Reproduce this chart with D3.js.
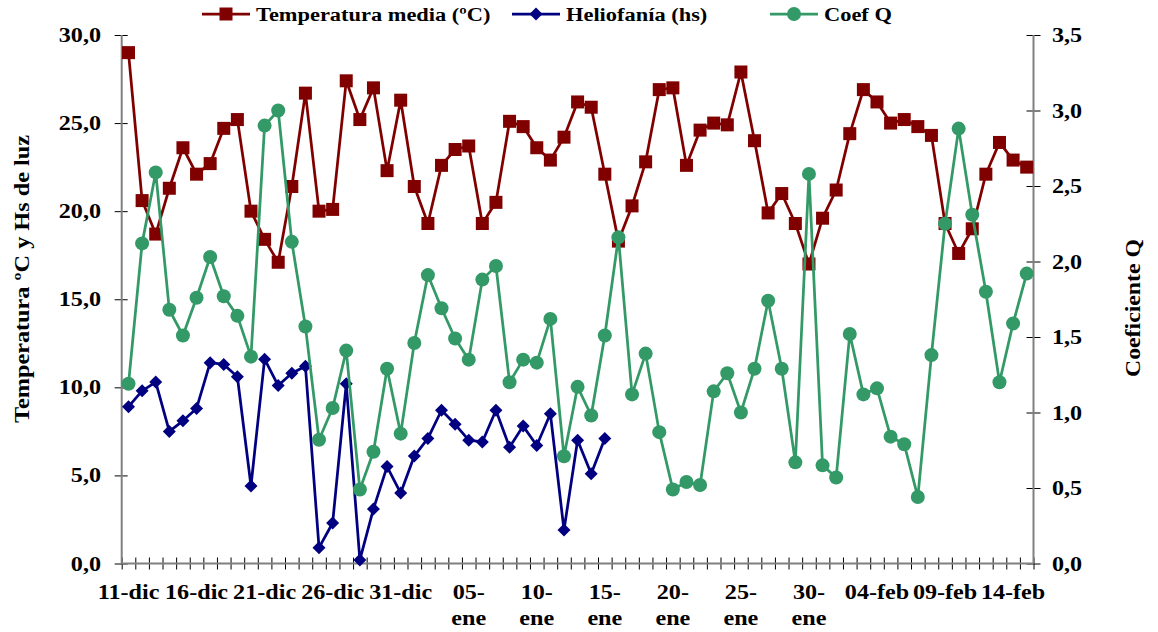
<!DOCTYPE html>
<html><head><meta charset="utf-8">
<script src="https://cdn.jsdelivr.net/npm/d3@7"></script>
<style>html,body{margin:0;padding:0;background:#fff;}svg{display:block;}</style>
</head><body>
<svg id="c" width="1158" height="632"></svg>
<script>
const categories = ["11-dic","12-dic","13-dic","14-dic","15-dic","16-dic","17-dic","18-dic","19-dic","20-dic","21-dic","22-dic","23-dic","24-dic","25-dic","26-dic","27-dic","28-dic","29-dic","30-dic","31-dic",
"01-ene","02-ene","03-ene","04-ene","05-ene","06-ene","07-ene","08-ene","09-ene","10-ene","11-ene","12-ene","13-ene","14-ene","15-ene","16-ene","17-ene","18-ene","19-ene","20-ene","21-ene","22-ene","23-ene","24-ene","25-ene","26-ene","27-ene","28-ene","29-ene","30-ene","31-ene",
"01-feb","02-feb","03-feb","04-feb","05-feb","06-feb","07-feb","08-feb","09-feb","10-feb","11-feb","12-feb","13-feb","14-feb","15-feb"];
const temperatura = [29.0,20.6,18.7,21.3,23.6,22.1,22.7,24.7,25.2,20.0,18.4,17.1,21.4,26.7,20.0,20.1,27.4,25.2,27.0,22.3,26.3,21.4,19.3,22.6,23.5,
23.7,19.3,20.5,25.1,24.8,23.6,22.9,24.2,26.2,25.9,22.1,18.3,20.3,22.8,26.9,27.0,22.6,24.6,25.0,24.9,27.9,24.0,
19.9,21.0,19.3,17.0,19.6,21.2,24.4,26.9,26.2,25.0,25.2,24.8,24.3,19.3,17.6,19.0,22.1,23.9,22.9,22.5];
const heliofania = [8.9,9.8,10.3,7.5,8.1,8.8,11.4,11.3,10.6,4.4,11.6,10.1,10.8,11.2,0.9,2.3,10.2,0.2,3.1,5.5,4.0,6.1,7.1,8.7,7.9,
7.0,6.9,8.7,6.6,7.8,6.7,8.5,1.9,7.0,5.1,7.1];
const coefQ = [1.19,2.12,2.59,1.68,1.51,1.76,2.03,1.77,1.64,1.37,2.90,3.00,2.13,1.57,0.82,1.03,1.41,0.49,0.74,1.29,0.86,1.46,1.91,1.69,1.49,
1.35,1.88,1.97,1.20,1.35,1.33,1.62,0.71,1.17,0.98,1.51,2.16,1.12,1.39,0.87,0.49,0.54,0.52,1.14,1.26,1.00,1.29,
1.74,1.29,0.67,2.58,0.65,0.57,1.52,1.12,1.16,0.84,0.79,0.44,1.38,2.25,2.88,2.31,1.80,1.20,1.59,1.92];
const leftTicks = [0,5,10,15,20,25,30];
const rightTicks = [0,0.5,1,1.5,2,2.5,3,3.5];
const seriesNames = ["Temperatura media (ºC)","Heliofanía (hs)","Coef Q"];
const leftTitle = "Temperatura ºC y Hs de luz";
const rightTitle = "Coeficiente Q";

const FONT = '"Liberation Serif","Times New Roman",serif';
const SX = 1.15;
const colors = ["#800000","#000080","#339966"];
const svg = d3.select("#c");
const L = 121.7, R = 1033.5, T = 35, B = 563.5;

const x = d3.scaleBand().domain(d3.range(categories.length)).range([L, R]);
const xb = d3.scaleLinear().domain([0, categories.length]).range([L, R]);
const yL = d3.scaleLinear().domain([0, 30]).range([B, T]);
const yR = d3.scaleLinear().domain([0, 3.5]).range([B, T]);
const cx = i => x(i) + x.bandwidth() / 2;
const fmt = v => d3.format(".1f")(v).replace(".", ",");

function txt(g, s, px, py, anchor, size) {
  return g.append("text").attr("transform", `translate(${px},${py}) scale(${SX},1)`)
    .attr("text-anchor", anchor).attr("font-family", FONT).attr("font-weight", "bold")
    .attr("font-size", size).attr("fill", "#000").text(s);
}

// x axis ticks
const gx = svg.append("g").attr("transform", `translate(0,${B})`)
  .call(d3.axisBottom(xb).tickValues(d3.range(categories.length + 1)).tickSize(6).tickFormat(""));
gx.select(".domain").remove();
gx.selectAll(".tick line").attr("y1", -6).attr("stroke", "#000").attr("stroke-width", 1);

// y axes ticks
const gyl = svg.append("g").attr("transform", `translate(${L},0)`)
  .call(d3.axisLeft(yL).tickValues(leftTicks).tickSize(7).tickFormat(""));
gyl.select(".domain").remove();
gyl.selectAll(".tick line").attr("x1", 6).attr("stroke", "#000");
const gyr = svg.append("g").attr("transform", `translate(${R},0)`)
  .call(d3.axisRight(yR).tickValues(rightTicks).tickSize(7).tickFormat(""));
gyr.select(".domain").remove();
gyr.selectAll(".tick line").attr("x1", -7).attr("stroke", "#000");

// axis lines
svg.append("line").attr("x1", L).attr("x2", L).attr("y1", T).attr("y2", B).attr("stroke", "#808080").attr("stroke-width", 2);
svg.append("line").attr("x1", R).attr("x2", R).attr("y1", T).attr("y2", B).attr("stroke", "#808080").attr("stroke-width", 2);
svg.append("line").attr("x1", L).attr("x2", R).attr("y1", B).attr("y2", B).attr("stroke", "#808080").attr("stroke-width", 2);

// tick labels
const lab = svg.append("g");
leftTicks.forEach(v => txt(lab, fmt(v), 101, yL(v) + 7, "end", 21));
rightTicks.forEach(v => txt(lab, fmt(v), 1052, yR(v) + 7, "start", 21));
categories.forEach((c, i) => {
  if (i % 5 !== 0) return;
  if (c.endsWith("ene")) {
    txt(lab, c.slice(0, 3), cx(i), 599, "middle", 21);
    txt(lab, c.slice(3), cx(i), 625, "middle", 21);
  } else {
    txt(lab, c, cx(i), 599, "middle", 21);
  }
});

// axis titles
svg.append("text").attr("transform", `translate(29,279) rotate(-90)`).attr("text-anchor", "middle")
  .attr("font-family", FONT).attr("font-weight", "bold").attr("font-size", 21)
  .attr("textLength", 288).attr("lengthAdjust", "spacingAndGlyphs").text(leftTitle);
svg.append("text").attr("transform", `translate(1140,308) rotate(-90)`).attr("text-anchor", "middle")
  .attr("font-family", FONT).attr("font-weight", "bold").attr("font-size", 21)
  .attr("textLength", 138).attr("lengthAdjust", "spacingAndGlyphs").text(rightTitle);

// marker shapes
const diamond = "M0,-6.5L6.5,0L0,6.5L-6.5,0Z";
function marker(g, k, px, py) {
  if (k === 0) g.append("rect").attr("x", px - 6.5).attr("y", py - 6.5).attr("width", 13).attr("height", 13).attr("fill", colors[0]);
  else if (k === 1) g.append("path").attr("d", diamond).attr("transform", `translate(${px},${py})`).attr("fill", colors[1]);
  else g.append("circle").attr("cx", px).attr("cy", py).attr("r", 7).attr("fill", colors[2]);
}

const series = [
  {vals: temperatura, y: yL},
  {vals: heliofania, y: yL},
  {vals: coefQ, y: yR}
];
series.forEach((s, k) => {
  const g = svg.append("g");
  const pts = s.vals.map((v, i) => ({i, v})).filter(d => d.v != null);
  const line = d3.line().x(d => cx(d.i)).y(d => s.y(d.v));
  g.append("path").attr("d", line(pts)).attr("fill", "none").attr("stroke", colors[k]).attr("stroke-width", 2.75).attr("stroke-linejoin", "round");
  pts.forEach(d => marker(g, k, cx(d.i), s.y(d.v)));
});

// legend
const legX = [202, 512, 770];
seriesNames.forEach((n, k) => {
  const g = svg.append("g");
  g.append("line").attr("x1", legX[k]).attr("x2", legX[k] + 48).attr("y1", 14).attr("y2", 14).attr("stroke", colors[k]).attr("stroke-width", 2.75);
  marker(g, k, legX[k] + 24, 14);
  txt(g, n, legX[k] + 54, 21, "start", 19.5);
});
</script>
</body></html>
